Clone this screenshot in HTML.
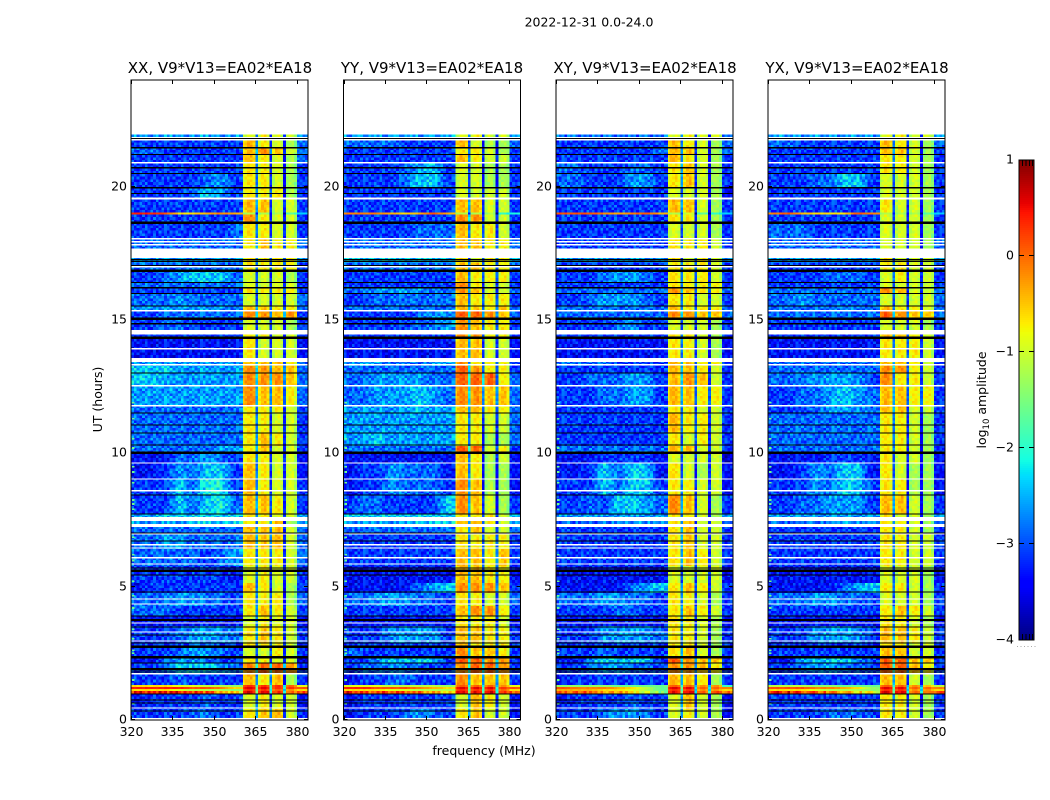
<!DOCTYPE html>
<html lang="en">
<head>
<meta charset="utf-8">
<title>2022-12-31 0.0-24.0</title>
<style>
html,body{margin:0;padding:0;background:#fff;width:1050px;height:800px;overflow:hidden}
svg{display:block}
text{font-family:"DejaVu Sans","Liberation Sans",sans-serif;fill:#000}
.tick{font-size:12.5px}
.ttl{font-size:15px;text-anchor:middle}
</style>
</head>
<body>
<svg id="figure" xmlns="http://www.w3.org/2000/svg" width="1050" height="800" viewBox="0 0 1050 800">
  <rect x="0" y="0" width="1050" height="800" fill="#fff"/>
  <text x="589" y="26.5" font-size="12.5" text-anchor="middle">2022-12-31 0.0-24.0</text>
  <g id="panel-0"></g>
  <g id="panel-1"></g>
  <g id="panel-2"></g>
  <g id="panel-3"></g>
  <text class="ttl" x="220" y="73">XX, V9*V13=EA02*EA18</text>
  <text class="ttl" x="432" y="73">YY, V9*V13=EA02*EA18</text>
  <text class="ttl" x="645" y="73">XY, V9*V13=EA02*EA18</text>
  <text class="ttl" x="857" y="73">YX, V9*V13=EA02*EA18</text>
  <text x="484" y="755" font-size="12.5" text-anchor="middle">frequency (MHz)</text>
  <text transform="translate(102,399.5) rotate(-90)" font-size="12.5" text-anchor="middle">UT (hours)</text>
  <g id="colorbar"></g>
  <text transform="translate(986,400) rotate(-90)" font-size="12.5" text-anchor="middle">log<tspan font-size="8.5" dy="3">10</tspan><tspan dy="-3"> amplitude</tspan></text>
  <line x1="1017" y1="646.5" x2="1036" y2="646.5" stroke="#aaa" stroke-width="1" stroke-dasharray="1 2.5"/>
</svg>
<script>
// UT hours at which each band of rows starts/ends (57 bands)
const bandEdges = [.08,.41,.98,1.09,1.16,1.24,1.31,1.73,2.14,2.36,2.70,2.89,3.53,3.90,4.28,4.77,5.14,5.78,6.42,6.98,7.24,7.47,7.73,8.41,9.04,9.64,10.02,10.28,10.77,11.52,11.78,12.53,13.02,13.28,13.58,14.30,14.63,15.04,15.35,15.53,15.99,16.21,16.40,16.85,17.15,17.34,18.05,18.65,18.96,19.04,19.51,19.96,20.49,20.90,21.20,21.46,21.76,21.95];
// Each band: 8 off-band groups (320-360 MHz, 5 MHz each), 4 spectral windows (360-380), 1 out-of-band (380-384)
// One character per group; level index into levelKey, 0.25 log10 amplitude per step
const levelKey = "0123456789ABCDEFGH";
const xxBands = ["22223322CDDB2","12222322BCBB1","GGGGFFDCHHGFF","CCCBAAA9GGFEC","GGGGFFECHHGGF","CCCBBAA9GGGFB","22232222DCDA2","22355543EFFE2","11344322CCBB0","22234432BBCB2","22223322CCCB1","22234443CDCB2","11111111BCBB1","33322222CDCB2","33344332CCCA3","12222222DCBA2","22222221BCBB2","33333234CCCB3","33443333DDDB3","33333333DDDB3","44445555CCDA4","44555555CCBB4","22253563DDCB2","22253662DCBB2","11243552DCBB1","11133432CCBB1","33333344CDBB2","33333333CDCB2","33333333CCBB2","33333333CCCB2","44444444EDDC3","55444444EEED3","55544444EEDD3","44444444DDDC3","11111111CBBB1","22222222CCBB2","22332222BBBA2","22333333EEDE2","44444443DDCC3","33343333BBBB3","22222222CCCC2","33333333BBBB2","22345553BBBA2","33333333CCCC2","44444444CCCC4","33333333CDCC3","22222223CCBB2","22222222ECBB2","GGFCCDEDAAA85","22222222DDBB2","22223542CCCA2","22222342CCBA2","22222222CCBA2","22222222DCBA3","33222222DEDB3","22222222DCBA3","44444444BCBB4"];
const yyBands = ["12223432CDBB1","12222222BDCB1","GFFFFEDCHHHGF","CCCBBAAAGGGFC","GGFFFEDCHHHGF","BBBAAAA9FFFEB","12233222EDDD2","23343322EFFE2","22455552FFEE2","32222222EDDC2","22222222DCCC2","22244442DDCC2","11111111CCCB1","22222222DEEC2","33444332CCBB3","11111345EEED2","11111111DDCC1","22222222DDCD2","22222222CCCC2","33333333CDBB3","44444555DDCB4","55555555CCCB5","23322225EDBA2","12243332EDAA1","12243331DCAA1","11111111DCAB1","33333333FFBC2","44544444CCAA3","44444444CCBB3","44444544DDCC3","33444543EEDD3","33444433FFFC3","33333333FECC2","44433344ECCC2","11111111DDBB1","22222222EECC2","22222334EDCC2","22222344FFED3","33333333DDCD3","22333333DCCC2","33444433EDBB3","22222222ECBB2","22222222DCCC2","33333333DDCC3","55555555CBCC5","33333333DDCC3","22222333DCCB2","22222222EEBB2","EEEDCDFDAAA76","22222222DDBB2","22222222BBBB2","22223552BBAA2","22223452BBAA2","22222222DCBB2","22222222CCBA2","33332222DBAA3","44444444BCBB4"];
const xyBands = ["22234432BCBA1","12222322BDBA1","FFEEDCB8HHFGE","DDDCCBA8GGEEC","FEEEDCA8HHFFE","99998888FFEE7","12222222DDCA2","22344332EEDC2","11455552FEDD2","22232222CDBA2","22222222CCBA2","22244443CCBA2","11111111CCBA1","22223322CDCB2","33344332CCBA2","11111345CDCB2","11111111BBBB1","22222222CDCB2","22222222CDBB2","22222222CDBB2","33334444CDBB3","44444444CCBA4","22325543EDBA2","22253552CCBB1","11253551CBAB1","11122221BBBB0","33333333DDBB2","22222222CBCB2","22222222DCCB2","22222222CCBB2","22233442DDCC2","22333442DEDB2","22222222DDCB2","33332222DDCC2","11111111CCBA1","22222222CCBA2","22223422BBBA2","33333333EEDD3","33333333DCCC3","22344432CCBB2","33333333EDCC3","22222222CCCC2","22234432CCCB2","22222222CCCB2","44444444CBCB4","22222222CCCB2","22222222BBBA2","22222222CCBA2","FFFEDEFDAB875","22222222DDBA2","22222222BBBA1","33222442CDBA2","33222332CDBA2","22222222DCBA2","22222223DDBA3","22222222DCBA3","33333333BCBB3"];
const yxBands = ["22223332CCBA2","22222222CCBA2","GGFFEDCBHHFFF","CCCBAAA9GGEEC","FFFEEDC9HHFFE","AAA99888FFEDA","22222222DDBA2","22344332FFDC2","11455542FFDD2","22222222DDBB2","22222222CCBB2","22244442DDCB2","11111111CCBA1","22222222CDCB2","33344332BBBA2","11111345CCBA2","11111111BBBA1","22222222CCBB2","22222222CCBB2","22222222CCBA2","33334444CCBA3","44444444CBBA4","22334442DDBA2","22243552CCAA1","11243551CBAA1","11112221CBBA1","33333333CCBA2","33333333CCBA2","33333333CCBA2","22234443DDBB2","22334543DDCC2","33344442ECCB2","33333333EECB2","33333333DDCB2","11111111CCCB1","22222222DDCB2","22222222BBBA2","33333333FEDD3","33333433DCCB3","33433333BBBB3","33333333EDBB3","22222222BBBB2","22223332BCBB2","22222222CCBB2","44444444CBBB4","33333333BBBA3","33322222BBBA2","22222222BBBA2","EFDCCCFEAAA85","22222222CBBA2","22222222BBBA2","22233552BBBA2","22222222CCBA2","22222222CCBA2","22222222DDBA2","33222222DCBA3","44444444BCBB4"];
// Level offset per channel across the spectral windows (channels 360..379); gap channels at 365, 370, 375
const windowShape = [-.05,-.01,.01,.01,-.02,-.42,-.04,0,.01,-.03,-.45,-.04,0,.01,-.03,-.45,-.03,0,0,-.05];
// Fine per-cell grain read as digit table (digit 4.5 is neutral)
const cellGrain = ["7285194630728","3916472058139","8042739615284","1673058294716","5930816427305","2748391065872","6105724938461","9381260574193","4627953180526","0859417362947","7314685029158"];
// Flagged (black) integrations, UT hours
const flagLines = [21.80,21.46,21.20,20.71,20.49,19.96,19.74,17.26,17.19,17.04,16.40,16.21,15.99,15.53,14.86,13.02,11.52,11.07,10.77,10.32,8.44,7.73,7.02,6.72,5.70,5.44,4.80,3.90,3.49,3.19,2.89,2.14,1.80,.98,.75,.64,.34];
const flagThick = [18.65,16.85,15.04,14.33,10.02,5.59,3.75,2.74,2.35,1.91];
// Missing (white) integrations, UT hours
const gapLines = [.45,1.73,2.96,3.30,3.64,4.35,4.54,5.85,6.08,6.45,6.57,6.98,9.04,9.64,11.78,12.53,13.32,13.92,15.35,17.00,17.82,17.94,18.05,20.90,21.76,21.84];
const gapSpanStart = [7.24,7.47,8.56,13.43,14.45,17.32,19.51];
const gapSpanEnd = [7.35,7.62,8.63,13.58,14.63,17.69,19.59];
// Small RFI specks in the second channel, UT hours
const edgeSpecks = [.62,1.5,2.5,2.62,3.05,3.4,4.2,4.66,5.2,5.98,6.2,6.85,7.9,8.1,8.25,8.9,9.3,9.5,10.2,10.55,11.3,11.9];
// Axis ticks
const freqTicks = [320,335,350,365,380];
const utTicks = [0,5,10,15,20];
const cbarTicks = [1,0,-1,-2,-3,-4];
const cbarTickLabels = ["1","0","\u22121","\u22122","\u22123","\u22124"];

const panelBands = [xxBands,yyBands,xyBands,yxBands];
const panelLeft = [131,343.5,556,768];
const panelWidth = 177;
const plotTop = 80, plotBottom = 720;
const windowStartMHz = 360.5;
const NS = "http://www.w3.org/2000/svg";

function yScale(ut){ return plotBottom - ut/24*(plotBottom-plotTop); }
function xScale(mhz,left){ return left + (mhz-320)/64*panelWidth; }
function lerpStops(t,xs,ys){
  for(let i=1;i<xs.length;i++){ if(t<=xs[i]) return ys[i-1]+(ys[i]-ys[i-1])*(t-xs[i-1])/(xs[i]-xs[i-1]); }
  return ys[ys.length-1];
}
function jet(t){
  t=Math.max(0,Math.min(1,t));
  const r=lerpStops(t,[0,.35,.66,.89,1],[0,0,1,1,.5]);
  const g=lerpStops(t,[0,.125,.375,.64,.91,1],[0,0,1,1,0,0]);
  const b=lerpStops(t,[0,.11,.34,.65,1],[.5,1,1,0,0]);
  return "rgb("+Math.round(r*255)+","+Math.round(g*255)+","+Math.round(b*255)+")";
}
function colorOfLog(v){ return jet((v+4)/5); }
function levelToLog(ch){ return -4+5*(0.1+levelKey.indexOf(ch)*0.05); }
function groupLog(s,i){ return levelToLog(s.charAt(i)); }
function offBandLog(s,c){
  const p=(c+.5-2.5)/5;
  const i=Math.max(0,Math.min(7,Math.floor(p)));
  const j=Math.max(0,Math.min(7,i+1));
  const f=Math.max(0,Math.min(1,p-i));
  return groupLog(s,i)*(1-f)+groupLog(s,j)*f;
}
function channelLog(s,c,r,p,grainScale){
  const grain=(cellGrain[(r+p*4)%cellGrain.length].charCodeAt((c+p*5)%13)-48-4.5)*grainScale;
  if(c<40) return offBandLog(s,c)-0.12+grain*0.09;
  if(c<60){
    const w=Math.floor((c-40)/5);
    return groupLog(s,8+w)-0.2+windowShape[c-40]*5+grain*0.035;
  }
  return groupLog(s,12)-0.12+grain*0.07;
}
function mkRect(parent,x,y,w,h,fill){
  const el=document.createElementNS(NS,"rect");
  el.setAttribute("x",x.toFixed(2));
  el.setAttribute("y",y.toFixed(2));
  el.setAttribute("width",w.toFixed(2));
  el.setAttribute("height",h.toFixed(2));
  el.setAttribute("fill",fill);
  parent.appendChild(el);
  return el;
}
function mkLine(parent,x1,y1,x2,y2,name){
  const el=document.createElementNS(NS,"line");
  el.setAttribute("x1",x1);
  el.setAttribute("y1",y1);
  el.setAttribute("x2",x2);
  el.setAttribute("y2",y2);
  el.setAttribute("stroke","#000");
  el.setAttribute("stroke-width","1");
  el.setAttribute("shape-rendering","crispEdges");
  
  
  parent.appendChild(el);
  return el;
}
function mkText(parent,x,y,str,anchor,name){
  const el=document.createElementNS(NS,"text");
  el.setAttribute("class","tick");
  el.setAttribute("x",x);
  el.setAttribute("y",y);
  el.setAttribute("text-anchor",anchor);
  
  
  el.textContent=str;
  parent.appendChild(el);
  return el;
}

function drawPanel(p){
  const host=document.getElementById("panel-"+p);
  const left=panelLeft[p];
  const right=left+panelWidth;
  const bands=panelBands[p];
  const cells=document.createElementNS(NS,"g");
  cells.setAttribute("shape-rendering","crispEdges");
  
  
  const frag=document.createDocumentFragment();
  let rowCount=0;
  for(let b=0;b<bands.length;b++){
    const u0=bandEdges[b],u1=bandEdges[b+1];
    const n=Math.max(1,Math.round((u1-u0)/0.1));
    const du=(u1-u0)/n;
    const grainScale=(u1-u0)<0.1?0.15:1;
    for(let k=0;k<n;k++){
      const top=yScale(u0+du*(k+1));
      const bot=yScale(u0+du*k);
      for(let c=0;c<64;c++){
        const xa=c===40?xScale(windowStartMHz,left):xScale(320+c,left);
        const xb=c===39?xScale(windowStartMHz,left):xScale(321+c,left);
        const cell=mkRect(frag,xa,top,xb-xa,bot-top,colorOfLog(channelLog(bands[b],c,rowCount,p,grainScale)));
        
        
      }
      rowCount++;
    }
  }
  cells.appendChild(frag);
  host.appendChild(cells);

  const overlay=document.createElementNS(NS,"g");
  overlay.setAttribute("shape-rendering","crispEdges");
  
  
  edgeSpecks.forEach(function(u){
    const s=mkRect(overlay,xScale(320.4,left),yScale(u+.03),2.6,1.6,colorOfLog(-1.6));
    
    
  });
  gapLines.forEach(function(u){
    const s=mkRect(overlay,left,yScale(u+.025),panelWidth,yScale(0)-yScale(.05),"#fff");
    
    
  });
  gapSpanStart.forEach(function(u,i){
    const s=mkRect(overlay,left,yScale(gapSpanEnd[i]),panelWidth,yScale(u)-yScale(gapSpanEnd[i]),"#fff");
    
    
  });
  flagLines.forEach(function(u){
    const s=mkRect(overlay,left,yScale(u+.02),panelWidth,yScale(0)-yScale(.04),"#000");
    
    
  });
  flagThick.forEach(function(u){
    const s=mkRect(overlay,left,yScale(u+.045),panelWidth,yScale(0)-yScale(.09),"#000");
    
    
  });
  host.appendChild(overlay);

  freqTicks.forEach(function(f){
    const x=Math.round(xScale(f,left))+.5;
    mkLine(host,x,plotBottom,x,plotBottom-4,"x-tick-bottom");
    mkLine(host,x,plotTop,x,plotTop+4,"x-tick-top");
    mkText(host,x,plotBottom+16,String(f),"middle","x-tick-label");
  });
  utTicks.forEach(function(u){
    const y=Math.round(yScale(u))-.5;
    mkLine(host,left,y,left+4,y,"y-tick-left");
    mkLine(host,right,y,right-4,y,"y-tick-right");
    mkText(host,left-4,y+4.2,String(u),"end","y-tick-label");
  });
  const frame=document.createElementNS(NS,"rect");
  frame.setAttribute("x",left);
  frame.setAttribute("y",plotTop);
  frame.setAttribute("width",panelWidth);
  frame.setAttribute("height",plotBottom-plotTop);
  frame.setAttribute("fill","none");
  frame.setAttribute("stroke","#000");
  frame.setAttribute("stroke-width","1");
  
  
  host.appendChild(frame);
}

function drawColorbar(){
  const host=document.getElementById("colorbar");
  const x0=1019,x1=1034,y0=160,y1=640;
  const ramp=document.createElementNS(NS,"g");
  ramp.setAttribute("shape-rendering","crispEdges");
  
  
  for(let i=0;i<240;i++){
    mkRect(ramp,x0,y0+i*2,x1-x0,2,jet(1-(i+.5)/240));
  }
  host.appendChild(ramp);
  function cy(v){ return y0+(1-v)/5*(y1-y0); }
  cbarTicks.forEach(function(v,i){
    const y=Math.max(y0,Math.min(y1-1,Math.round(cy(v))-.5));
    if(v!==1&&v!==-4){
      mkLine(host,x0,y,x0+5,y,"colorbar-tick");
      mkLine(host,x1-5,y,x1,y,"colorbar-tick");
    }
    mkText(host,x0-5,Math.round(cy(v))+3.5,cbarTickLabels[i],"end","colorbar-tick-label");
  });
  [1022.5,1026,1029.5,1032.5].forEach(function(x){
    mkLine(host,x,y0,x,y0+6,"colorbar-minor-tick-top");
    mkLine(host,x,y1-6,x,y1,"colorbar-minor-tick-bottom");
  });
  const frame=document.createElementNS(NS,"rect");
  frame.setAttribute("x",x0);
  frame.setAttribute("y",y0);
  frame.setAttribute("width",x1-x0);
  frame.setAttribute("height",y1-y0);
  frame.setAttribute("fill","none");
  frame.setAttribute("stroke","#000");
  frame.setAttribute("stroke-width","1");
  
  
  host.appendChild(frame);
}

for(let p=0;p<4;p++){ drawPanel(p); }
drawColorbar();
</script>
</body>
</html>
